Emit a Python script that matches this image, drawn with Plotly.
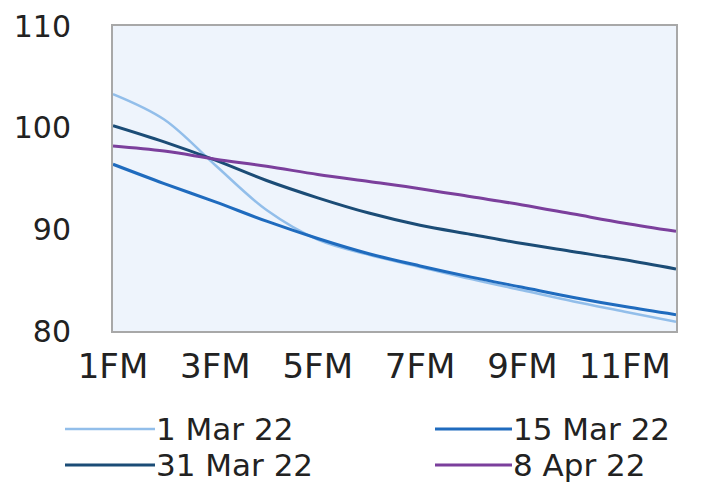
import plotly.graph_objects as go

months = list(range(1, 13))
tick_vals = [1, 3, 5, 7, 9, 11]
tick_text = ["1FM", "3FM", "5FM", "7FM", "9FM", "11FM"]
y_ticks = [80, 90, 100, 110]

series_names = ["1 Mar 22", "15 Mar 22", "31 Mar 22", "8 Apr 22"]
mar01 = [103.3, 100.8, 96.3, 91.9, 89.0, 87.5, 86.3, 85.1, 84.0, 82.9, 81.9, 80.9]
mar15 = [96.4, 94.5, 92.7, 90.8, 89.1, 87.6, 86.4, 85.3, 84.3, 83.3, 82.4, 81.6]
mar31 = [100.2, 98.6, 96.8, 94.8, 93.1, 91.6, 90.4, 89.5, 88.6, 87.8, 87.0, 86.1]
apr08 = [98.2, 97.7, 96.9, 96.2, 95.4, 94.7, 94.0, 93.2, 92.4, 91.5, 90.6, 89.8]

colors = ["#92BEEA", "#1F6BBE", "#1B4C76", "#7B3F9C"]
widths = [2.5, 3, 3, 3]

W, H = 722, 484
ML, MR, MT, MB = 113, 46, 26, 153
PW, PH = W - ML - MR, H - MT - MB
FONT = "DejaVu Sans, Liberation Sans, Arial, sans-serif"


def px_to_paper(px, py):
    return (px - ML) / PW, (H - MB - py) / PH


fig = go.Figure()
for name, vals, c, w in zip(series_names, [mar01, mar15, mar31, apr08], colors, widths):
    fig.add_trace(go.Scatter(x=months, y=vals, mode="lines", name=name, showlegend=False,
                             line=dict(color=c, width=w, shape="spline", smoothing=1.0)))

# manual two-column legend (row-major order)
legend_cols = [(65, 155), (435, 512)]
legend_rows = [429, 465]
for i, (name, c, w) in enumerate(zip(series_names, colors, widths)):
    row, col = divmod(i, 2)
    x0, x1 = legend_cols[col]
    yy = legend_rows[row]
    px0, py0 = px_to_paper(x0, yy)
    px1, _ = px_to_paper(x1, yy)
    fig.add_shape(type="line", xref="paper", yref="paper", x0=px0, x1=px1, y0=py0, y1=py0,
                  line=dict(color=c, width=w))
    fig.add_annotation(xref="paper", yref="paper", x=px1, y=py0, xanchor="left", yanchor="middle",
                       text=name, showarrow=False, borderpad=0,
                       font=dict(size=31, color="#222222"))

fig.update_layout(
    width=W, height=H,
    margin=dict(l=ML, r=MR, t=MT, b=MB, autoexpand=False),
    paper_bgcolor="white",
    plot_bgcolor="#EEF4FC",
    font=dict(family=FONT, color="#222222"),
    showlegend=False,
)
fig.update_xaxes(range=[1, 12], tickvals=tick_vals, ticktext=tick_text, automargin=False,
                 showgrid=False, zeroline=False, showline=True, mirror=True,
                 linecolor="#A8A8A8", linewidth=2, ticks="", tickfont=dict(size=34),
                 ticklabelstandoff=4)
fig.update_yaxes(range=[80, 110], tickvals=y_ticks, automargin=False,
                 showgrid=False, zeroline=False, showline=True, mirror=True,
                 linecolor="#A8A8A8", linewidth=2, ticks="", tickfont=dict(size=30),
                 ticklabelstandoff=34)

fig.write_html("out.html", config={"displayModeBar": False},
               post_script="document.body.style.margin='0';")
